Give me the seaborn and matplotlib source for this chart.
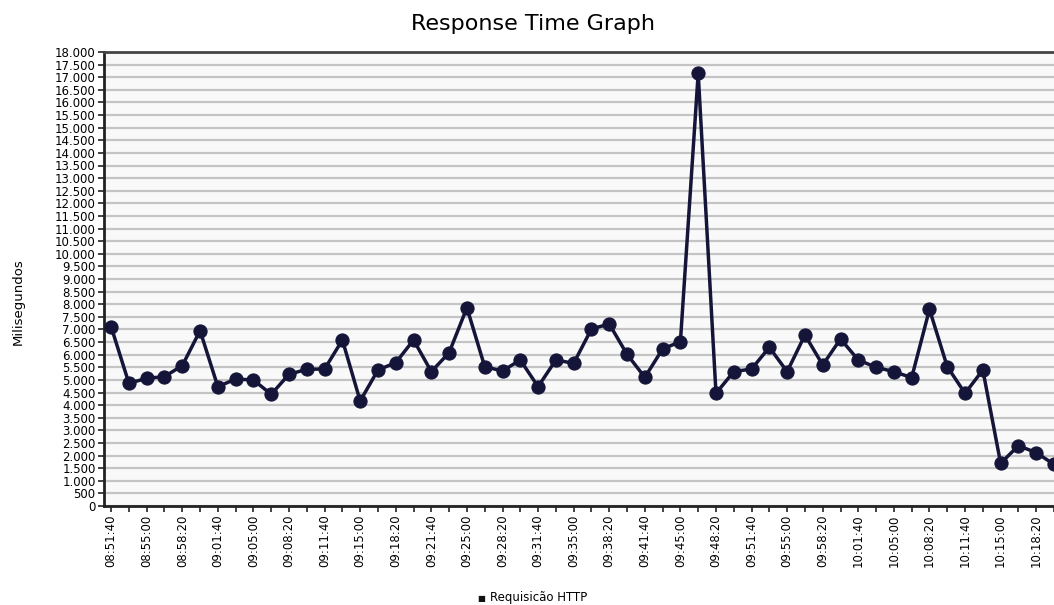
#!/usr/bin/env python3

import matplotlib
matplotlib.use('Agg')
import matplotlib.pyplot as plt
import matplotlib.dates as mdates
import seaborn as sns
import pandas as pd


START = '2024-01-01 08:51:40'
STEP = '100s'
RESPONSE_MS = [7110, 4865, 5063, 5130, 5565, 6952, 4730, 5035, 4996, 4428,
               5222, 5420, 5432, 6582, 4163, 5393, 5683, 6582, 5327, 6080,
               7864, 5525, 5353, 5790, 4731, 5790, 5657, 7018, 7217, 6014,
               5102, 6225, 6516, 17157, 4468, 5327, 5432, 6291, 5327, 6780,
               5591, 6622, 5790, 5498, 5327, 5089, 7797, 5525, 4468, 5393,
               1692, 2392, 2115, 1652]
SERIES = 'Requisicão HTTP'
LINE_COLOR = '#15153a'


def main():
    times = pd.date_range(START, periods=len(RESPONSE_MS), freq=STEP)
    df = pd.DataFrame({'Tempo': times, 'Milisegundos': RESPONSE_MS})

    sns.set_style('white')
    plt.rcParams['font.family'] = ['DejaVu Sans']
    plt.rcParams['text.color'] = 'black'
    plt.rcParams['xtick.color'] = 'black'
    plt.rcParams['ytick.color'] = 'black'

    fig = plt.figure(figsize=(10.54, 6.05), dpi=100)
    ax = fig.add_axes([104 / 1054, 1 - 506 / 605, 1 - 104 / 1054, (506 - 52) / 605])
    ax.set_facecolor('#f9f9f9')

    sns.lineplot(data=df, x='Tempo', y='Milisegundos', ax=ax, color=LINE_COLOR,
                 linewidth=2.5, marker='o', markersize=9.5, markeredgecolor=LINE_COLOR,
                 markerfacecolor=LINE_COLOR, legend=False, clip_on=False, zorder=5)

    # y axis: ticks every 500 with dotted thousands separator
    ax.set_ylim(0, 18000)
    yticks = list(range(0, 18001, 500))
    ax.set_yticks(yticks)
    ax.set_yticklabels([f'{v:,}'.replace(',', '.') for v in yticks], fontsize=8.5)
    ax.yaxis.grid(True, color='#c4c4c4', linewidth=1.6)
    ax.set_axisbelow(True)

    # x axis: minor tick at every sample, label every other one
    ax.set_xlim(times[0] - pd.Timedelta(seconds=40), times[-1])
    ax.set_xticks(times[::2])
    ax.set_xticks(times, minor=True)
    ax.xaxis.set_major_formatter(mdates.DateFormatter('%H:%M:%S'))
    plt.setp(ax.get_xticklabels(), rotation=90, fontsize=8.5)

    ax.tick_params(axis='both', which='both', direction='out', length=4, width=1.2,
                   color='#222222', labelcolor='black', bottom=True, left=True, pad=2)
    for side in ['left', 'bottom', 'top']:
        ax.spines[side].set_color('#222222')
        ax.spines[side].set_linewidth(2)
    ax.spines['top'].set_color('#444444')
    ax.spines['right'].set_visible(False)

    ax.set_xlabel('')
    ax.set_ylabel('')
    fig.text(18 / 1054, 1 - 302 / 605, 'Milisegundos', rotation=90, fontsize=9.5,
             ha='center', va='center')
    fig.text(533 / 1054, 1 - 24 / 605, 'Response Time Graph', fontsize=16,
             ha='center', va='center')
    fig.text(481 / 1054, 1 - 598 / 605, '\u25a0', fontsize=6, ha='center',
             va='center', color='#111111')
    fig.text(490 / 1054, 1 - 598 / 605, SERIES, fontsize=8.5, ha='left',
             va='center')

    plt.savefig('out.png', dpi=100)


if __name__ == '__main__':
    main()
